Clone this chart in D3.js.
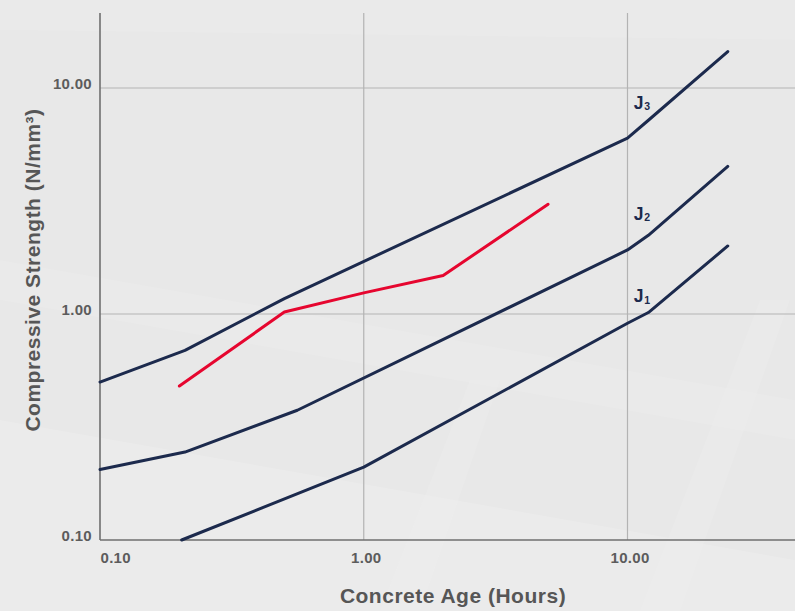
<!DOCTYPE html>
<html>
<head>
<meta charset="utf-8">
<script src="https://cdn.jsdelivr.net/npm/d3@7"></script>
<style>
  html, body { margin: 0; padding: 0; background: #e9e9e9; }
  svg { display: block; }
</style>
</head>
<body>
<div id="chart"></div>
<script>
// ---- data ----
const xTicks = [0.1, 1, 10];
const yTicks = [0.1, 1, 10];
const j3Age = [0.1, 0.21, 0.5, 10, 12, 24];
const j3Strength = [0.5, 0.69, 1.17, 6.0, 7.2, 14.5];
const j2Age = [0.1, 0.21, 0.56, 10, 12, 24];
const j2Strength = [0.205, 0.245, 0.375, 1.92, 2.23, 4.5];
const j1Age = [0.204, 1, 10, 12, 24];
const j1Strength = [0.1, 0.21, 0.91, 1.015, 2.0];
const redAge = [0.2, 0.5, 1, 2, 5];
const redStrength = [0.48, 1.02, 1.24, 1.48, 3.06];
const curveLabels = ["J", "J", "J"];
const curveSubs = ["3", "2", "1"];
const labelAge = 10.55;
const labelStrength = [8.1, 2.61, 1.13];
const xTitle = "Concrete Age (Hours)";
const yTitle = "Compressive Strength (N/mm³)";

const W = 795, H = 611;
const FONT = "Liberation Sans, Arial, Helvetica, sans-serif";
const svg = d3.select("#chart").append("svg").attr("width", W).attr("height", H);

// background with faint structure
const bg = svg.append("g");
bg.append("rect").attr("width", W).attr("height", H).attr("fill", "#e8e8e8");
const shapes = [
  [[0,260],[795,400],[795,440],[0,300]],
  [[0,420],[795,560],[795,611],[0,611]],
  [[380,611],[470,380],[500,380],[420,611]],
  [[640,611],[760,300],[790,300],[680,611]],
  [[0,0],[795,0],[795,40],[0,30]]
];
shapes.forEach((p,i) => bg.append("path")
  .attr("d", d3.line()(p) + "Z")
  .attr("fill", "#ffffff").attr("opacity", i===1 ? 0.14 : 0.09));

const x = d3.scaleLog().domain([0.1, 10]).range([100, 627.5]);
const y = d3.scaleLog().domain([0.1, 10]).range([540, 88]);
const xMax = x.invert(795);
const yMax = y.invert(13);

const gridColor = "#b3b3b3";
svg.append("g").selectAll("line").data(yTicks.filter(d => d > 0.1)).join("line")
  .attr("x1", x(0.1)).attr("x2", x(xMax))
  .attr("y1", d => y(d)).attr("y2", d => y(d))
  .attr("stroke", gridColor).attr("stroke-width", 1.2);
svg.append("g").selectAll("line").data(xTicks.filter(d => d > 0.1)).join("line")
  .attr("x1", d => x(d)).attr("x2", d => x(d))
  .attr("y1", y(0.1)).attr("y2", y(yMax))
  .attr("stroke", gridColor).attr("stroke-width", 1.2);

// axis lines
svg.append("line").attr("x1", x(0.1)).attr("x2", x(0.1)).attr("y1", y(yMax)).attr("y2", y(0.1))
  .attr("stroke", "#6f6f6f").attr("stroke-width", 1.6);
svg.append("line").attr("x1", x(0.1)).attr("x2", x(xMax)).attr("y1", y(0.1)).attr("y2", y(0.1))
  .attr("stroke", "#6f6f6f").attr("stroke-width", 1.6);

const fmt = d3.format(".2f");
const yAx = svg.append("g").attr("transform", `translate(${x(0.1) - 8},0)`)
  .call(d3.axisLeft(y).tickValues(yTicks).tickFormat(fmt).tickSize(0).tickPadding(0));
yAx.select(".domain").remove();
yAx.selectAll("text")
  .attr("font-family", FONT).attr("font-size", 15).attr("font-weight", "bold")
  .attr("letter-spacing", 0.3).attr("fill", "#5c5c5c")
  .attr("dy", "0.05em");

const xAx = svg.append("g").attr("transform", `translate(0,${y(0.1) + 9})`)
  .call(d3.axisBottom(x).tickValues(xTicks).tickFormat(fmt).tickSize(0).tickPadding(0));
xAx.select(".domain").remove();
xAx.selectAll("text")
  .attr("font-family", FONT).attr("font-size", 15).attr("font-weight", "bold")
  .attr("letter-spacing", 0.3).attr("fill", "#5c5c5c")
  .attr("dy", "0.95em")
  .attr("dx", d => d === 0.1 ? 0 : 2)
  .attr("text-anchor", d => d === 0.1 ? "start" : "middle");

// axis titles
svg.append("text").attr("x", 453).attr("y", 603).attr("text-anchor", "middle")
  .attr("font-family", FONT).attr("font-size", 21).attr("font-weight", "bold")
  .attr("letter-spacing", 0.5).attr("fill", "#565656")
  .text(xTitle);
svg.append("text").attr("transform", "translate(40,270) rotate(-90)").attr("text-anchor", "middle")
  .attr("font-family", FONT).attr("font-size", 21).attr("font-weight", "bold")
  .attr("letter-spacing", 0.5).attr("fill", "#565656")
  .text(yTitle);

// curves
const line = d3.line().x(d => x(d[0])).y(d => y(d[1]));
const navy = "#1c2a4d";
const series = [
  {a: j3Age, s: j3Strength, c: navy},
  {a: j2Age, s: j2Strength, c: navy},
  {a: j1Age, s: j1Strength, c: navy},
  {a: redAge, s: redStrength, c: "#e6062f"}
];
svg.append("g").selectAll("path").data(series).join("path")
  .attr("d", d => line(d.a.map((v, i) => [v, d.s[i]])))
  .attr("fill", "none").attr("stroke", d => d.c).attr("stroke-width", 3)
  .attr("stroke-linejoin", "round").attr("stroke-linecap", "round");

// curve labels
curveLabels.forEach((t, i) => {
  const txt = svg.append("text")
    .attr("x", x(labelAge)).attr("y", y(labelStrength[i]))
    .attr("font-family", FONT).attr("font-weight", "bold").attr("fill", navy).attr("font-size", 17.5);
  txt.append("tspan").text(t);
  txt.append("tspan").attr("font-size", 10.5).attr("dy", 1.5).attr("dx", 1).text(curveSubs[i]);
});
</script>
</body>
</html>
